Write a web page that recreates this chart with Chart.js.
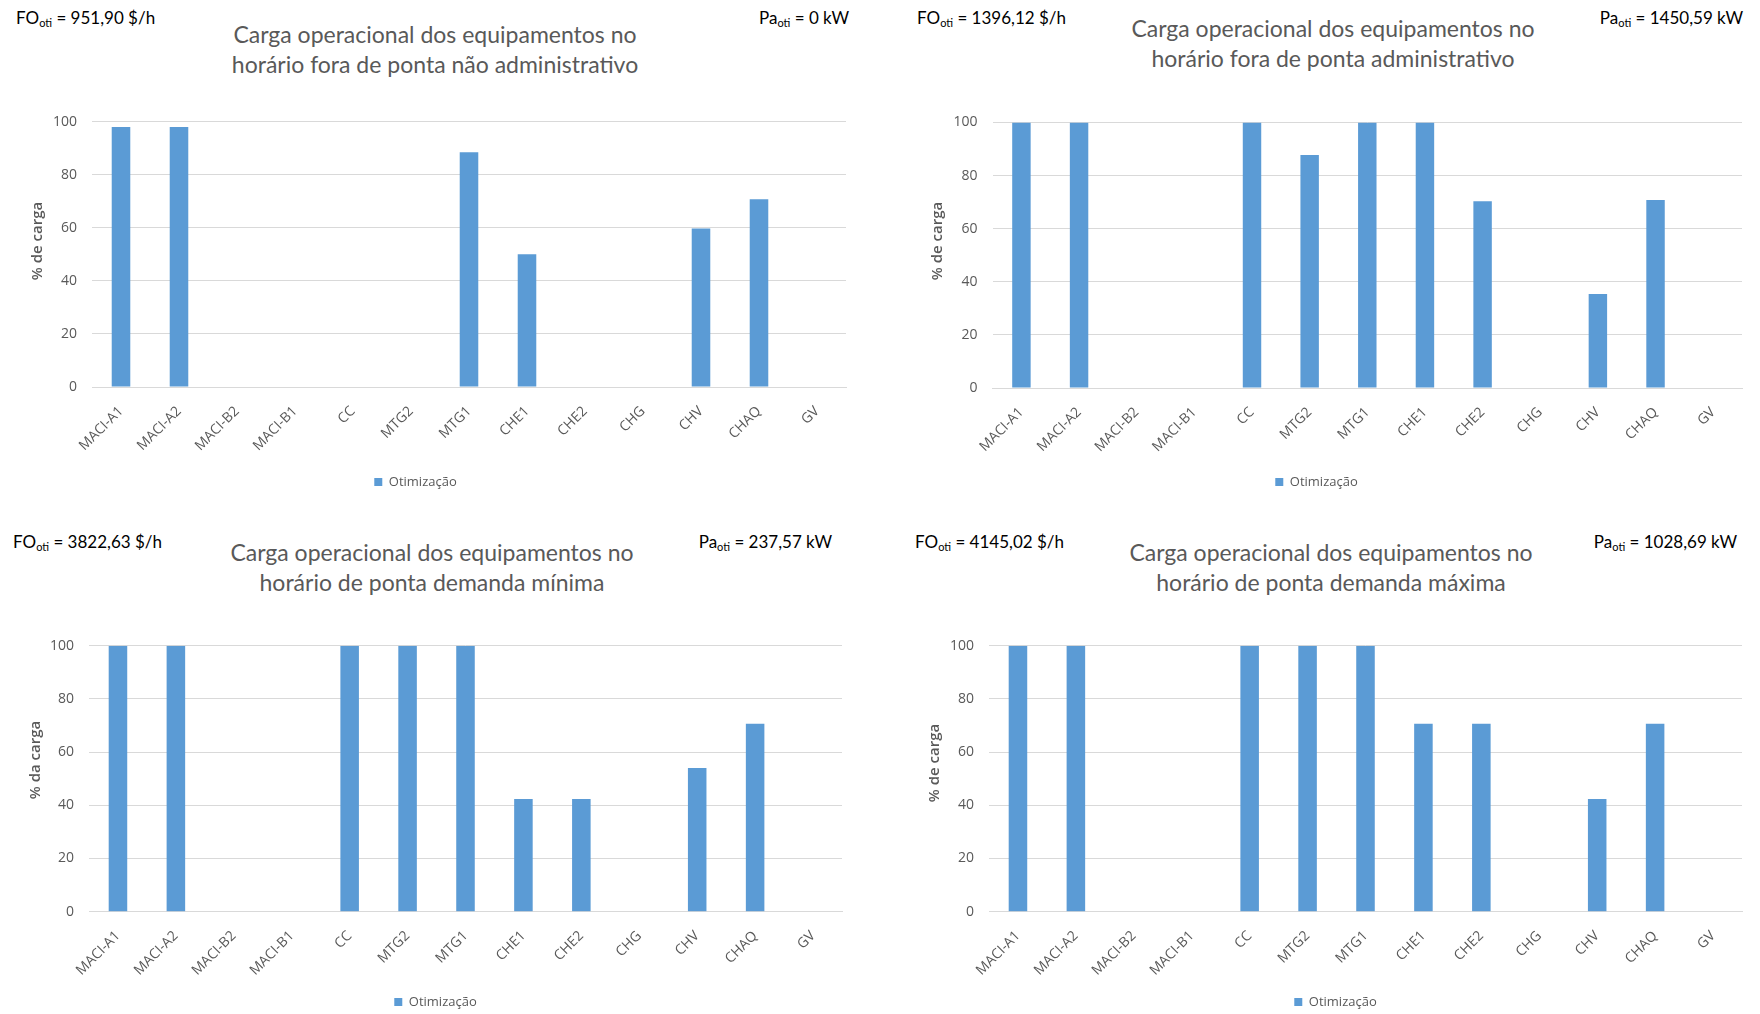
<!DOCTYPE html>
<html lang="pt">
<head>
<meta charset="utf-8">
<title>Carga operacional dos equipamentos</title>
<script src="https://cdn.jsdelivr.net/npm/chart.js@4.4.1/dist/chart.umd.min.js"></script>
<style>
  html, body { margin: 0; padding: 0; background: #ffffff; }
  body { width: 1760px; height: 1014px; position: relative; overflow: hidden; font-family: Lato, sans-serif; }
  canvas { position: absolute; }
  .note { position: absolute; font-family: Lato, sans-serif; font-weight: 400; font-size: 17px; color: #000; white-space: nowrap; line-height: 20px; }
  .note sub { font-size: 11px; vertical-align: -3px; line-height: 0; }
  .title { position: absolute; font-family: Lato, sans-serif; font-size: 23px; color: #595959; text-align: center; line-height: 30px; white-space: nowrap; transform: translateX(-50%); }
</style>
</head>
<body>
<script>
// ---- data ----
const categories = ['MACI-A1', 'MACI-A2', 'MACI-B2', 'MACI-B1', 'CC', 'MTG2', 'MTG1', 'CHE1', 'CHE2', 'CHG', 'CHV', 'CHAQ', 'GV'];
const yTicks = [0, 20, 40, 60, 80, 100];
const seriesLabel = 'Otimização';

const loadOffPeakNonAdmin = [98, 98, 0, 0, 0, 0, 88.5, 50, 0, 0, 59.7, 70.8, 0];
const loadOffPeakAdmin    = [100, 100, 0, 0, 100, 87.8, 100, 100, 70.3, 0, 35.4, 70.8, 0];
const loadPeakMinDemand   = [100, 100, 0, 0, 100, 100, 100, 42.4, 42.4, 0, 54, 70.7, 0];
const loadPeakMaxDemand   = [100, 100, 0, 0, 100, 100, 100, 70.7, 70.7, 0, 42.4, 70.7, 0];

const panelTitles = [
  ['Carga operacional dos equipamentos no', 'horário fora de ponta não administrativo'],
  ['Carga operacional dos equipamentos no', 'horário fora de ponta administrativo'],
  ['Carga operacional dos equipamentos no', 'horário de ponta demanda mínima'],
  ['Carga operacional dos equipamentos no', 'horário de ponta demanda máxima']
];
const costValues  = ['951,90', '1396,12', '3822,63', '4145,02'];
const powerValues = ['0', '1450,59', '237,57', '1028,69'];
const axisTitles  = ['% de carga', '% de carga', '% da carga', '% de carga'];

// ---- look ----
const BAR_COLOR = '#5b9bd5';
const TEXT_GREY = '#595959';
const GRID_GREY = '#d9d9d9';
const TICK_FONT = { family: "'Open Sans', sans-serif", size: 14 };
const LEGEND_FONT_SIZE = 13;
const LEGEND_PAD = 10;

// ---- layout of the four panels (page pixels) ----
const panels = [
  { values: loadOffPeakNonAdmin, canvas: { left: -15, top: 100, width: 895, height: 410 },
    plot: { left: 92, right: 846, top: 121.7, bottom: 387 },
    yTitle: { x: 38, y: 241 }, legendY: 482,
    titleX: 435, titleY: 34, foX: 16, paRight: 849, noteY: 18 },
  { values: loadOffPeakAdmin, canvas: { left: 891, top: 100, width: 869, height: 410 },
    plot: { left: 992.6, right: 1742, top: 122.5, bottom: 388 },
    yTitle: { x: 938, y: 241 }, legendY: 482,
    titleX: 1333, titleY: 28, foX: 917, paRight: 1743, noteY: 18 },
  { values: loadPeakMinDemand, canvas: { left: 29, top: 620, width: 851, height: 410 },
    plot: { left: 89, right: 842, top: 645.7, bottom: 911.7 },
    yTitle: { x: 36, y: 760 }, legendY: 1002,
    titleX: 432, titleY: 552, foX: 13, paRight: 832, noteY: 542 },
  { values: loadPeakMaxDemand, canvas: { left: 929, top: 620, width: 831, height: 410 },
    plot: { left: 989, right: 1742, top: 645.7, bottom: 911.7 },
    yTitle: { x: 935, y: 763 }, legendY: 1002,
    titleX: 1331, titleY: 552, foX: 915, paRight: 1737, noteY: 542 }
];

// Rotated value-axis caption, placed explicitly beside the plot
const axisCaptionPlugin = {
  id: 'axisCaption',
  afterDraw(chart, args, opts) {
    const ctx = chart.ctx;
    ctx.save();
    ctx.translate(opts.x, opts.y);
    ctx.rotate(-Math.PI / 2);
    ctx.font = "600 15px 'Open Sans', sans-serif";
    ctx.fillStyle = TEXT_GREY;
    ctx.textAlign = 'center';
    ctx.textBaseline = 'middle';
    ctx.fillText(opts.text, 0, 0);
    ctx.restore();
  }
};

function addText(cls, html, style) {
  const d = document.createElement('div');
  d.className = cls;
  d.innerHTML = html;
  Object.assign(d.style, style);
  document.body.appendChild(d);
}

panels.forEach((p, i) => {
  // headline and the two result notes
  addText('title', panelTitles[i].join('<br>'), { left: p.titleX + 'px', top: (p.titleY - 15) + 'px' });
  addText('note', 'FO<sub>oti</sub> = ' + costValues[i] + ' $/h', { left: p.foX + 'px', top: (p.noteY - 10) + 'px' });
  addText('note', 'Pa<sub>oti</sub> = ' + powerValues[i] + ' kW', { right: (1760 - p.paRight) + 'px', top: (p.noteY - 10) + 'px' });

  const c = p.canvas;
  const canvas = document.createElement('canvas');
  canvas.width = c.width; canvas.height = c.height;
  Object.assign(canvas.style, { left: c.left + 'px', top: c.top + 'px', width: c.width + 'px', height: c.height + 'px' });
  document.body.appendChild(canvas);

  const padTop = p.plot.top - c.top;
  const padRight = c.left + c.width - p.plot.right;
  const yAxisW = p.plot.left - c.left;
  const xAxisH = p.legendY - p.plot.bottom - LEGEND_PAD - LEGEND_FONT_SIZE / 2;
  const legendH = LEGEND_FONT_SIZE + LEGEND_PAD + 10;
  const padBottom = c.height - (p.plot.bottom - c.top) - xAxisH - legendH;

  new Chart(canvas, {
    type: 'bar',
    data: {
      labels: categories,
      datasets: [{
        label: seriesLabel,
        data: p.values,
        backgroundColor: BAR_COLOR,
        borderWidth: 0,
        barPercentage: 0.32,
        categoryPercentage: 1
      }]
    },
    options: {
      responsive: false,
      animation: false,
      devicePixelRatio: 1,
      layout: { padding: { top: padTop, right: padRight, bottom: padBottom, left: 0 } },
      plugins: {
        legend: {
          position: 'bottom',
          labels: { boxWidth: 8, boxHeight: 8, padding: LEGEND_PAD, color: TEXT_GREY,
                    font: { family: "'Open Sans', sans-serif", size: LEGEND_FONT_SIZE } }
        },
        tooltip: { enabled: false },
        axisCaption: { text: axisTitles[i], x: p.yTitle.x - c.left, y: p.yTitle.y - c.top }
      },
      scales: {
        x: {
          grid: { display: false },
          border: { color: GRID_GREY },
          ticks: { autoSkip: false, minRotation: 45, maxRotation: 45, color: TEXT_GREY, font: TICK_FONT, padding: 8 },
          afterFit(s) { s.height = xAxisH; s.paddingLeft = 0; s.paddingRight = 0; }
        },
        y: {
          min: 0, max: 100,
          afterBuildTicks(s) { s.ticks = yTicks.map(v => ({ value: v })); },
          grid: { color: GRID_GREY, drawTicks: false },
          border: { display: false },
          ticks: { color: TEXT_GREY, font: TICK_FONT, padding: 15 },
          afterFit(s) { s.width = yAxisW; s.paddingTop = 0; s.paddingBottom = 0; }
        }
      }
    },
    plugins: [axisCaptionPlugin]
  });
});
</script>
</body>
</html>
